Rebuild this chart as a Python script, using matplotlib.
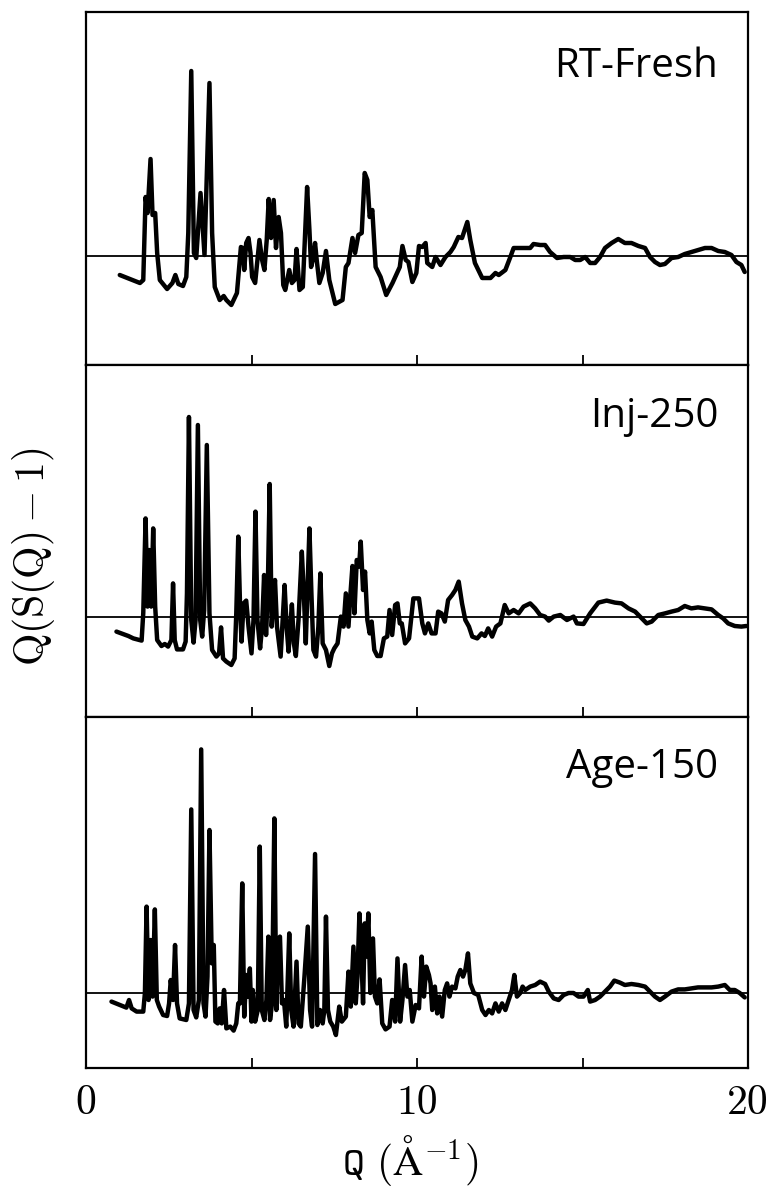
import matplotlib
matplotlib.use("Agg")
import matplotlib.pyplot as plt

# ---- data: (Q [1/Å], Q(S(Q)-1) in arbitrary units) ----
RT_FRESH = [(1.02,-0.95),(1.63,-1.35),(1.73,-1.2),(1.80,2.95),(1.86,2.15),(1.95,4.85),(2.01,2.05),(2.09,2.15),
    (2.15,0.15),(2.23,-1.2),(2.45,-1.65),(2.61,-1.35),(2.70,-0.95),(2.79,-1.4),(2.93,-1.5),(3.03,-1.05),(3.09,1.15),
    (3.18,9.25),(3.26,0.15),(3.33,-0.1),(3.46,3.15),(3.58,0.05),(3.73,8.65),(3.81,1.15),(3.89,-1.55),(4.04,-2.2),
    (4.16,-2.0),(4.24,-2.2),(4.39,-2.45),(4.56,-1.85),(4.68,0.45),(4.74,0.4),(4.78,-0.7),(4.84,0.65),(4.91,0.9),
    (4.97,0.15),(5.02,-1.05),(5.11,-1.35),(5.24,0.8),(5.32,-0.2),(5.39,-0.7),(5.46,0.8),(5.52,2.85),(5.59,0.9),
    (5.67,2.8),(5.74,0.4),(5.82,1.95),(5.89,1.15),(5.96,-1.45),(6.02,-1.7),(6.14,-0.7),(6.22,-1.35),(6.30,-1.2),
    (6.36,0.35),(6.45,-1.7),(6.55,-1.55),(6.68,3.45),(6.75,1.3),(6.80,-0.55),(6.85,-0.2),(6.92,0.65),(6.97,-0.2),
    (7.05,-1.35),(7.15,-0.85),(7.25,0.25),(7.35,-1.2),(7.53,-2.4),(7.75,-2.2),(7.85,-0.55),(7.93,-0.35),(8.05,0.9),
    (8.13,0.15),(8.23,1.05),(8.33,1.15),(8.42,4.15),(8.50,3.8),(8.57,1.95),(8.65,2.3),(8.75,-0.55),(8.90,-1.05),
    (9.07,-1.95),(9.26,-1.35),(9.41,-0.8),(9.48,-0.55),(9.56,0.5),(9.66,-0.2),(9.74,-0.3),(9.86,-1.3),(9.98,-0.85),
    (10.06,0.5),(10.16,0.45),(10.26,0.65),(10.31,-0.35),(10.46,-0.55),(10.56,-0.05),(10.71,-0.45),(10.86,-0.05),
    (11.01,0.2),(11.11,0.45),(11.25,0.95),(11.36,0.9),(11.52,1.7),(11.61,0.8),(11.75,-0.35),(11.97,-1.1),
    (12.22,-1.1),(12.37,-0.85),(12.47,-0.95),(12.67,-0.7),(12.82,-0.05),(12.92,0.4),(13.12,0.4),(13.27,0.4),
    (13.42,0.4),(13.52,0.6),(13.72,0.55),(13.87,0.55),(14.02,0.2),(14.23,-0.1),(14.43,-0.05),(14.63,-0.05),
    (14.78,-0.2),(14.93,-0.2),(15.08,-0.05),(15.23,-0.35),(15.38,-0.35),(15.53,-0.05),(15.68,0.4),(15.88,0.65),
    (16.08,0.85),(16.28,0.65),(16.48,0.65),(16.69,0.5),(16.89,0.4),(17.04,-0.05),(17.19,-0.3),(17.34,-0.45),
    (17.49,-0.4),(17.69,-0.1),(17.89,-0.05),(18.09,0.1),(18.29,0.2),(18.49,0.3),(18.70,0.4),(18.90,0.4),
    (19.10,0.25),(19.30,0.2),(19.50,0.05),(19.65,-0.3),(19.80,-0.45),(19.90,-0.8)]

INJ_250 = [(0.92,-0.73),(1.28,-0.95),(1.43,-1.07),(1.68,-1.18),(1.73,0.2),(1.80,4.93),(1.86,0.52),(1.91,3.35),
    (1.97,0.52),(2.03,4.43),(2.09,0.52),(2.15,-1.15),(2.28,-1.45),(2.38,-1.35),(2.48,-1.48),(2.58,-1.15),(2.63,1.68),
    (2.68,-1.15),(2.75,-1.62),(2.93,-1.62),(3.01,-1.23),(3.05,1.18),(3.11,10.0),(3.18,-0.15),(3.25,-1.28),
    (3.31,-0.15),(3.38,9.6),(3.45,-0.15),(3.51,-0.98),(3.57,0.35),(3.65,8.6),(3.73,0.18),(3.81,-1.65),(3.94,-1.98),
    (4.02,-1.82),(4.08,-0.52),(4.14,-2.07),(4.24,-2.23),(4.39,-2.4),(4.49,-2.07),(4.54,0.18),(4.60,4.02),(4.66,0.18),
    (4.70,-1.23),(4.76,0.68),(4.84,0.82),(4.91,-0.48),(5.00,-1.82),(5.06,-0.15),(5.12,5.27),(5.18,-0.15),
    (5.26,-1.57),(5.32,-0.48),(5.38,2.1),(5.44,-0.9),(5.49,1.18),(5.55,6.65),(5.61,-0.48),(5.66,0.85),(5.71,1.85),
    (5.77,-0.48),(5.88,-1.98),(5.94,-0.15),(6.00,1.6),(6.06,-0.48),(6.12,-1.73),(6.17,-0.48),(6.22,0.63),
    (6.28,-1.32),(6.34,-1.95),(6.42,-0.15),(6.52,3.27),(6.58,1.18),(6.64,-1.32),(6.75,4.43),(6.81,1.18),
    (6.87,-1.65),(6.95,-1.98),(7.02,-0.48),(7.08,2.18),(7.15,-1.32),(7.25,-1.65),(7.35,-2.45),(7.43,-1.82),
    (7.50,-1.57),(7.60,-1.32),(7.70,0.02),(7.78,-0.48),(7.85,1.18),(7.93,-0.48),(7.99,1.18),(8.05,2.55),
    (8.11,0.18),(8.18,2.85),(8.25,2.52),(8.30,3.77),(8.37,1.35),(8.43,2.27),(8.50,-0.15),(8.57,-0.82),
    (8.63,-0.23),(8.71,-1.65),(8.80,-1.95),(8.90,-1.95),(9.00,-1.07),(9.10,-0.98),(9.17,0.35),(9.25,-0.9),
    (9.34,0.6),(9.41,0.68),(9.48,-0.32),(9.54,-0.32),(9.64,-1.32),(9.76,-1.07),(9.89,0.93),(9.98,0.93),
    (10.06,0.93),(10.16,-0.32),(10.24,-0.82),(10.34,-0.32),(10.44,-0.82),(10.56,-0.82),(10.64,0.27),(10.74,0.18),
    (10.84,-0.23),(10.94,0.85),(11.06,1.1),(11.16,1.35),(11.26,1.77),(11.36,0.68),(11.46,-0.15),(11.57,-0.48),
    (11.67,-0.98),(11.82,-1.07),(11.95,-0.82),(12.05,-0.95),(12.15,-0.57),(12.27,-0.98),(12.39,-0.48),
    (12.52,-0.32),(12.65,0.6),(12.77,0.18),(12.92,0.35),(13.07,0.18),(13.22,0.52),(13.42,0.68),(13.57,0.43),
    (13.72,0.1),(13.87,0.02),(13.98,-0.18),(14.13,0.02),(14.33,0.1),(14.53,-0.15),(14.73,0.02),(14.83,-0.32),
    (15.03,-0.35),(15.23,0.18),(15.48,0.72),(15.73,0.82),(15.98,0.72),(16.18,0.68),(16.39,0.43),(16.59,0.27),
    (16.79,-0.07),(16.94,-0.32),(17.09,-0.23),(17.29,0.1),(17.49,0.18),(17.69,0.27),(17.89,0.35),(18.09,0.55),
    (18.29,0.43),(18.49,0.48),(18.70,0.43),(18.90,0.38),(19.10,0.1),(19.25,-0.07),(19.40,-0.32),(19.60,-0.45),
    (19.80,-0.48),(19.95,-0.45)]

AGE_150 = [(0.77,-0.43),(1.22,-0.73),(1.30,-0.35),(1.38,-0.77),(1.53,-0.93),(1.73,-0.93),(1.78,0.0),(1.83,4.32),
    (1.89,-0.35),(1.95,2.65),(2.01,-0.18),(2.08,4.18),(2.14,-0.35),(2.21,-0.68),(2.33,-1.1),(2.45,-1.15),
    (2.51,-0.52),(2.56,0.65),(2.63,-0.35),(2.69,2.4),(2.75,-0.52),(2.83,-1.27),(3.03,-1.35),(3.11,-0.52),
    (3.18,9.18),(3.25,-0.85),(3.33,-1.22),(3.41,-0.35),(3.48,12.18),(3.55,-0.52),(3.61,-1.18),(3.67,0.82),
    (3.73,8.15),(3.80,1.48),(3.86,2.4),(3.91,-1.43),(3.98,-1.52),(4.04,-0.77),(4.10,-1.52),(4.17,0.15),
    (4.24,-1.77),(4.36,-1.68),(4.46,-1.88),(4.54,-1.52),(4.60,-0.52),(4.65,-0.52),(4.72,5.48),(4.78,-1.18),
    (4.84,0.9),(4.89,-0.18),(4.95,1.23),(5.00,-1.43),(5.04,0.15),(5.11,-1.43),(5.19,-0.85),(5.25,7.32),
    (5.31,-0.85),(5.39,-1.35),(5.45,-0.35),(5.51,2.82),(5.56,-1.35),(5.62,-0.52),(5.69,8.73),(5.75,-0.85),
    (5.80,2.65),(5.86,2.82),(5.92,-0.52),(5.98,-0.35),(6.05,-1.68),(6.14,2.98),(6.20,-0.85),(6.27,-1.68),
    (6.36,1.57),(6.42,-1.52),(6.49,-1.68),(6.60,0.82),(6.70,3.32),(6.77,-0.85),(6.83,-1.68),(6.92,6.95),
    (6.99,-1.6),(7.07,-0.85),(7.15,-1.52),(7.20,-0.85),(7.25,3.82),(7.31,-0.85),(7.38,-1.43),(7.47,-1.68),
    (7.55,-2.1),(7.65,-0.68),(7.73,-1.43),(7.85,-1.18),(7.93,1.07),(8.00,-0.68),(8.08,2.32),(8.15,-0.52),
    (8.20,0.82),(8.26,3.98),(8.32,1.82),(8.37,-0.52),(8.42,3.48),(8.47,1.82),(8.53,3.98),(8.59,0.0),(8.67,2.73),
    (8.73,-0.18),(8.80,-0.52),(8.87,0.68),(8.95,-1.52),(9.05,-1.82),(9.17,-1.68),(9.25,-0.35),(9.34,-1.43),
    (9.41,1.73),(9.49,-1.43),(9.56,-0.35),(9.64,1.4),(9.71,-0.18),(9.78,0.15),(9.86,-1.43),(9.96,-0.6),
    (10.06,-0.77),(10.14,1.82),(10.21,-0.18),(10.28,1.32),(10.36,0.9),(10.41,0.48),(10.46,-0.85),(10.54,0.32),
    (10.61,-1.02),(10.68,-0.18),(10.76,-1.18),(10.84,0.15),(10.91,0.48),(10.98,-0.18),(11.06,0.32),(11.16,0.23),
    (11.23,0.82),(11.31,1.15),(11.39,0.82),(11.46,1.15),(11.54,1.98),(11.61,0.48),(11.72,0.0),(11.85,-0.1),
    (11.97,-0.85),(12.07,-1.1),(12.17,-0.85),(12.27,-1.02),(12.37,-0.52),(12.47,-0.93),(12.57,-0.52),
    (12.67,-0.85),(12.77,-0.35),(12.87,0.15),(12.94,0.9),(13.02,-0.18),(13.12,0.0),(13.19,0.32),(13.27,0.15),
    (13.42,0.32),(13.57,0.4),(13.72,0.57),(13.87,0.45),(13.98,0.07),(14.13,-0.27),(14.28,-0.35),(14.43,-0.1),
    (14.58,0.0),(14.73,0.0),(14.88,-0.18),(15.03,-0.18),(15.16,0.15),(15.23,-0.43),(15.38,-0.35),(15.53,-0.18),
    (15.68,0.07),(15.83,0.32),(15.96,0.62),(16.13,0.52),(16.28,0.4),(16.48,0.45),(16.69,0.4),(16.89,0.32),
    (17.04,0.07),(17.19,-0.18),(17.34,-0.35),(17.49,-0.18),(17.69,0.07),(17.89,0.18),(18.09,0.18),(18.29,0.23),
    (18.49,0.28),(18.70,0.28),(18.90,0.28),(19.10,0.32),(19.30,0.4),(19.45,0.15),(19.60,0.15),(19.75,0.0),
    (19.90,-0.22)]

PANEL_NAMES = ["RT-Fresh", "Inj-250", "Age-150"]
PANEL_DATA = [RT_FRESH, INJ_250, AGE_150]
PANEL_YLIMS = [(-5.45, 12.2), (-5.0, 12.6), (-3.75, 13.8)]
X_TICKS = [0, 10, 20]
X_MINOR = [5, 15]

plt.rcParams['mathtext.fontset'] = 'cm'

W, H = 773, 1190
fig = plt.figure(figsize=(W / 100, H / 100), dpi=100)

left = 86 / W
width = (748 - 86) / W
panel_px = [(12, 365), (365, 717), (717, 1068)]

for i, (name, data, ylim, (top, bot)) in enumerate(zip(PANEL_NAMES, PANEL_DATA, PANEL_YLIMS, panel_px)):
    ax = fig.add_axes([left, (H - bot) / H, width, (bot - top) / H])
    q = [p[0] for p in data]
    v = [p[1] for p in data]
    ax.axhline(0, color='black', lw=1.3, zorder=1)
    ax.plot(q, v, color='black', lw=3.2, solid_joinstyle='round', solid_capstyle='round', zorder=2)
    ax.set_xlim(0, 20)
    ax.set_ylim(*ylim)
    ax.set_yticks([])
    for s in ax.spines.values():
        s.set_linewidth(1.6)
    ax.set_xticks(X_TICKS)
    ax.set_xticks(X_MINOR, minor=True)
    ax.tick_params(axis='x', which='both', direction='in', length=7, width=1.3, top=False)
    if i < 2:
        ax.tick_params(axis='x', labelbottom=False)
    else:
        ax.set_xticklabels([str(t) for t in X_TICKS], fontfamily='cmr10', fontsize=30)
        ax.tick_params(axis='x', pad=12)
    ax.text(0.955, [0.816, 0.824, 0.826][i], name, transform=ax.transAxes,
            ha='right', va='baseline', fontsize=29, fontfamily='Open Sans')

fig.text(410 / W, (H - 1160) / H, r'$\mathtt{Q\ (}\mathrm{\AA}^{\mathtt{-1}}\mathtt{)}$',
         ha='center', va='center', fontsize=30)
fig.text(34 / W, (H - 557) / H, r'$\mathrm{Q(S(Q)-1)}$', ha='center', va='center', rotation=90, fontsize=30)

fig.savefig('out.png', dpi=100)
